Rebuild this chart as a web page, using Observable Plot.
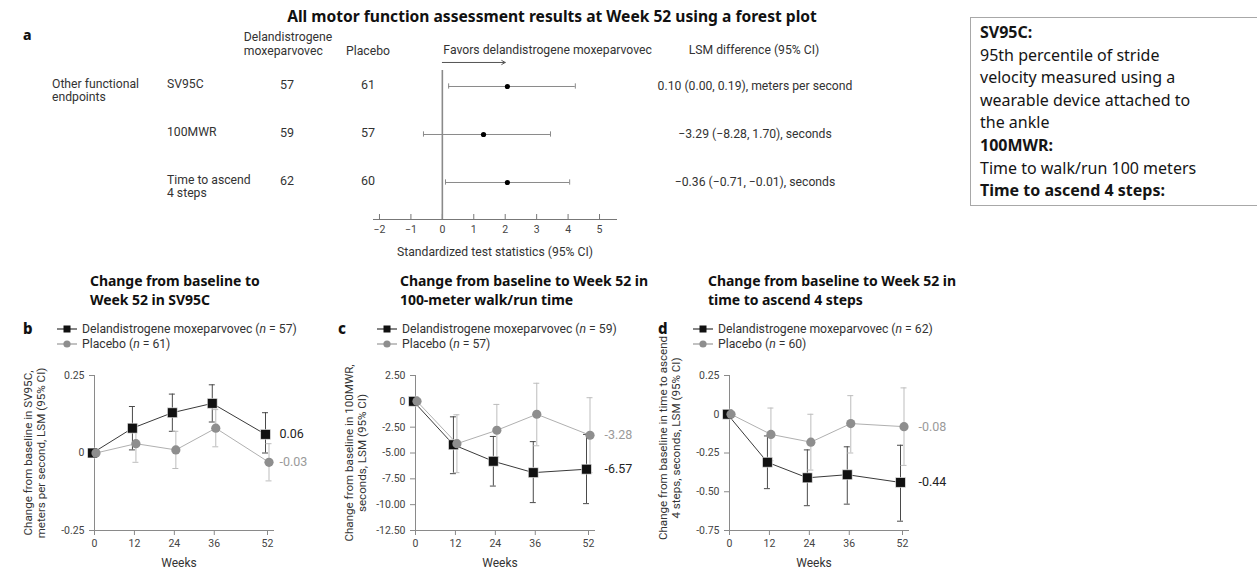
<!DOCTYPE html>
<html>
<head>
<meta charset="utf-8">
<script src="https://cdn.jsdelivr.net/npm/d3@7"></script>
<script src="https://cdn.jsdelivr.net/npm/@observablehq/plot@0.6"></script>
<style>
  html, body { margin: 0; padding: 0; background: #fff; }
  #root { position: relative; width: 1257px; height: 572px; overflow: hidden; background: #fff; }
  .t { position: absolute; white-space: nowrap; line-height: 1; }
  .abs { position: absolute; }
  .box { position: absolute; left: 970px; top: 17px; width: 300px; height: 189px; border: 1.5px solid #a8a8a8;
         box-sizing: border-box; padding: 3px 0 0 9px; font-family: 'Noto Sans', sans-serif; font-size: 16px;
         line-height: 22.6px; color: #151515; }
  .box b { font-weight: 700; }
</style>
</head>
<body>
<div id="root"></div>
<script>
// ---------------- DATA ----------------
// Forest plot (panel a)
const forestRows = ["SV95C", "100MWR", "Time to ascend\n4 steps"];
const forestDrugN = [57, 59, 62];
const forestPlaceboN = [61, 57, 60];
const forestEst = [2.07, 1.31, 2.07];
const forestLow = [0.2, -0.6, 0.1];
const forestHigh = [4.23, 3.44, 4.05];
const forestLSM = ["0.10 (0.00, 0.19), meters per second", "\u22123.29 (\u22128.28, 1.70), seconds", "\u22120.36 (\u22120.71, \u22120.01), seconds"];
const forestTicks = [-2, -1, 0, 1, 2, 3, 4, 5];

// Longitudinal panels
const weeks = [0, 12, 24, 36, 52];
const weekTicks = [0, 12, 24, 36, 52];

// b: SV95C
const svDrug = [0, 0.08, 0.13, 0.16, 0.06];
const svDrugLow = [0, 0.01, 0.07, 0.10, 0.00];
const svDrugHigh = [0, 0.15, 0.19, 0.22, 0.13];
const svPbo = [0, 0.03, 0.01, 0.08, -0.03];
const svPboLow = [0, -0.03, -0.05, 0.02, -0.09];
const svPboHigh = [0, 0.09, 0.07, 0.14, 0.03];
const svTicks = [-0.25, 0, 0.25];

// c: 100MWR
const mwrDrug = [0, -4.2, -5.8, -6.9, -6.57];
const mwrDrugLow = [0, -7.0, -8.2, -9.8, -9.9];
const mwrDrugHigh = [0, -1.5, -3.4, -3.9, -3.2];
const mwrPbo = [0, -4.1, -2.8, -1.25, -3.28];
const mwrPboLow = [0, -6.9, -5.4, -4.3, -6.9];
const mwrPboHigh = [0, -1.3, -0.3, 1.75, 0.35];
const mwrTicks = [2.5, 0, -2.5, -5, -7.5, -10, -12.5];

// d: time to ascend 4 steps
const ascDrug = [0, -0.31, -0.41, -0.39, -0.44];
const ascDrugLow = [0, -0.48, -0.59, -0.58, -0.69];
const ascDrugHigh = [0, -0.14, -0.23, -0.21, -0.20];
const ascPbo = [0, -0.13, -0.18, -0.06, -0.08];
const ascPboLow = [0, -0.30, -0.36, -0.25, -0.33];
const ascPboHigh = [0, 0.04, 0.00, 0.12, 0.17];
const ascTicks = [0.25, 0, -0.25, -0.5, -0.75];

// ---------------- HELPERS ----------------
const BODY = "Roboto, 'Noto Sans', sans-serif";
const HEAD = "'Noto Sans', sans-serif";
const root = document.getElementById("root");

function T(text, x, y, o = {}) {
  const d = document.createElement("div");
  d.className = "t";
  d.innerHTML = text;
  const a = o.anchor || "start";
  const tx = a === "start" ? "0" : a === "middle" ? "-50%" : "-100%";
  d.style.left = x + "px";
  d.style.top = y + "px";
  d.style.transform = `translate(${tx}, -50%)`;
  d.style.fontFamily = o.family || BODY;
  d.style.fontSize = (o.size || 12.2) + "px";
  d.style.fontWeight = o.weight || 400;
  d.style.color = o.color || "#333";
  if (o.ls) d.style.letterSpacing = o.ls + "px";
  if (o.lh) d.style.lineHeight = o.lh + "px";
  root.appendChild(d);
  return d;
}
function place(node, left, top) {
  const w = document.createElement("div");
  w.className = "abs";
  w.style.left = left + "px";
  w.style.top = top + "px";
  w.appendChild(node);
  root.appendChild(w);
}
const minus = s => s.replace("-", "\u2212");

// ---------------- PANEL a: titles and table ----------------
T("All motor function assessment results at Week 52 using a forest plot", 552, 17, {anchor: "middle", family: HEAD, size: 15.6, weight: 700, color: "#111"});
T("a", 23, 35, {family: HEAD, size: 14, weight: 800, color: "#111"});
T("Delandistrogene<br>moxeparvovec", 288, 44, {anchor: "middle", lh: 14});
T("Placebo", 368, 51, {anchor: "middle"});
T("LSM difference (95% CI)", 754, 50, {anchor: "middle"});
T("Other functional<br>endpoints", 52, 90.5, {lh: 13});
const rowY = [85, 133, 181];
forestRows.forEach((r, i) => {
  const lines = r.split("\n");
  T(lines.join("<br>"), 167, rowY[i] - 1 + (lines.length - 1) * 6.5, {lh: 13});
  T(String(forestDrugN[i]), 287, rowY[i], {anchor: "middle", size: 12.5});
  T(String(forestPlaceboN[i]), 368, rowY[i], {anchor: "middle", size: 12.5});
  T(forestLSM[i], 755, rowY[i] + 1, {anchor: "middle"});
});

// Forest plot
const forestData = forestRows.map((r, i) => ({row: i, est: forestEst[i], low: forestLow[i], high: forestHigh[i]}));
const capData = forestData.flatMap(d => [{row: d.row, x: d.low}, {row: d.row, x: d.high}]);
const forest = Plot.plot({
  width: 276, height: 224, marginLeft: 13, marginRight: 20, marginTop: 30, marginBottom: 45,
  x: {domain: [-2.19, 5.54]},
  y: {domain: [2.771, -0.333], axis: null},
  style: {fontFamily: BODY, fontSize: "10.5px", color: "#444", background: "none", overflow: "visible"},
  marks: [
    Plot.frame({anchor: "bottom", stroke: "#777"}),
    Plot.ruleX(forestTicks, {insetTop: 144, stroke: "#777"}),
    Plot.axisX({ticks: forestTicks, tickSize: 0, tickPadding: 6, tickFormat: d => minus(String(d)), label: null}),
    Plot.ruleX([0], {stroke: "#8a8a8a", strokeWidth: 1.6}),
    Plot.ruleY(forestData, {y: "row", x1: "low", x2: "high", stroke: "#8a8a8a", strokeWidth: 1}),
    Plot.ruleX(capData, {x: "x", y1: d => d.row - 0.055, y2: d => d.row + 0.055, stroke: "#8a8a8a"}),
    Plot.dot(forestData, {x: "est", y: "row", r: 2.6, fill: "#000"}),
    Plot.arrow([{x1: 0, x2: 2}], {x1: "x1", x2: "x2", y1: () => -0.5, y2: () => -0.5, stroke: "#555", headLength: 6, strokeWidth: 1}),
    Plot.text(["Favors delandistrogene moxeparvovec"], {text: d => d, x: () => 0, frameAnchor: "top", lineAnchor: "middle", dy: -20, dx: 1, textAnchor: "start", fontSize: 12.2, fill: "#333"}),
    Plot.text(["Standardized test statistics (95% CI)"], {text: d => d, frameAnchor: "bottom", lineAnchor: "middle", dy: 33, fontSize: 12.2, fill: "#333"})
  ]
});
place(forest, 360, 40);

// ---------------- Right box ----------------
const box = document.createElement("div");
box.className = "box";
box.innerHTML = "<b>SV95C:</b><br>95th percentile of stride<br>velocity measured using a<br>wearable device attached to<br>the ankle<br><b>100MWR:</b><br>Time to walk/run 100 meters<br><b>Time to ascend 4 steps:</b>";
root.appendChild(box);

// ---------------- Longitudinal panels ----------------
function series(mean, low, high) {
  return weeks.map((w, i) => ({week: w, mean: mean[i], low: low[i], high: high[i]}));
}
const panels = [
  {letter: "b", axis: 94, letterX: 23, legendX: 57, titleX: 90,
   title: ["Change from baseline to", "Week 52 in SV95C"],
   ylabel: "Change from baseline in SV95C,\nmeters per second, LSM (95% CI)", ylDy: 0,
   domain: [-0.25, 0.25], ticks: svTicks, nDrug: 57, nPbo: 61, endDx: 12,
   drug: series(svDrug, svDrugLow, svDrugHigh), pbo: series(svPbo, svPboLow, svPboHigh)},
  {letter: "c", axis: 415, letterX: 338, legendX: 377, titleX: 400,
   title: ["Change from baseline to Week 52 in", "100-meter walk/run time"],
   ylabel: "Change from baseline in 100MWR,\nseconds, LSM (95% CI)", ylDy: 0,
   domain: [-12.5, 2.5], ticks: mwrTicks, nDrug: 59, nPbo: 57, endDx: 16,
   drug: series(mwrDrug, mwrDrugLow, mwrDrugHigh), pbo: series(mwrPbo, mwrPboLow, mwrPboHigh)},
  {letter: "d", axis: 729, letterX: 658, legendX: 693, titleX: 708,
   title: ["Change from baseline to Week 52 in", "time to ascend 4 steps"],
   ylabel: "Change from baseline in time to ascend\n4 steps, seconds, LSM (95% CI)", ylDy: -15,
   domain: [-0.75, 0.25], ticks: ascTicks, nDrug: 62, nPbo: 60, endDx: 16,
   drug: series(ascDrug, ascDrugLow, ascDrugHigh), pbo: series(ascPbo, ascPboLow, ascPboHigh)}
];

const DRUG = "#111", DRUG_LINE = "#3a3a3a", DRUG_CI = "#4a4a4a";
const PBO = "#8e8e8e", PBO_LINE = "#b0b0b0", PBO_CI = "#bdbdbd";

function legendMarker(kind) {
  const c = kind === "drug" ? DRUG : PBO;
  const lc = kind === "drug" ? "#333" : "#999";
  const shape = kind === "drug"
    ? `<rect x="6.5" y="2.5" width="7" height="7" fill="${c}"/>`
    : `<circle cx="10" cy="6" r="3.6" fill="${c}"/>`;
  return `<svg width="20" height="12" style="vertical-align:middle;margin-right:5px"><line x1="0" x2="20" y1="6" y2="6" stroke="${lc}" stroke-width="1.2"/>${shape}</svg>`;
}

panels.forEach(p => {
  // titles, letter, legend
  T(p.title.join("<br>"), p.titleX, 289.5, {family: HEAD, size: 14, weight: 700, color: "#111", ls: -0.05, lh: 19.5});
  T(p.letter, p.letterX, 328, {family: HEAD, size: 15, weight: 800, color: "#111"});
  T(legendMarker("drug") + `Delandistrogene moxeparvovec (<i>n</i> = ${p.nDrug})<br>` +
    legendMarker("pbo") + `Placebo (<i>n</i> = ${p.nPbo})`, p.legendX, 336.5, {lh: 15});

  const ML = 80, MT = 15, MB = 42, MR = 48, inner = 179;
  const dDx = -2, pDx = 1.5;
  const drugCI = p.drug.filter(d => d.week > 0);
  const pboCI = p.pbo.filter(d => d.week > 0);
  const lastD = p.drug[p.drug.length - 1], lastP = p.pbo[p.pbo.length - 1];
  const chart = Plot.plot({
    width: ML + inner + MR, height: MT + 155 + MB,
    marginLeft: ML, marginRight: MR, marginTop: MT, marginBottom: MB,
    x: {domain: [0, 53.8]},
    y: {domain: p.domain},
    style: {fontFamily: BODY, fontSize: "10.5px", color: "#444", background: "none", overflow: "visible"},
    marks: [
      Plot.frame({anchor: "left", stroke: "#8a8a8a"}),
      Plot.frame({anchor: "bottom", stroke: "#8a8a8a"}),
      Plot.axisY({ticks: p.ticks, tickSize: 5, tickPadding: 5, stroke: "#8a8a8a", fill: "#444",
                  tickFormat: d => d === 0 ? "0" : d.toFixed(2), label: null}),
      Plot.axisX({ticks: weekTicks, tickSize: 5, tickPadding: 4, stroke: "#8a8a8a", fill: "#444", label: null}),
      Plot.text([p.ylabel], {text: d => d, frameAnchor: "left", rotate: -90, dx: -60, dy: p.ylDy,
                             lineHeight: 1.05, fontSize: 11.6, fill: "#333", textAnchor: "middle"}),
      Plot.text(["Weeks"], {text: d => d, frameAnchor: "bottom", lineAnchor: "middle", dy: 33, dx: -5, fontSize: 12, fill: "#333"}),
      // drug CI
      Plot.ruleX(drugCI, {x: "week", y1: "low", y2: "high", stroke: DRUG_CI, strokeWidth: 1, dx: dDx}),
      Plot.ruleY(drugCI.flatMap(d => [d.low, d.high].map(v => ({week: d.week, v}))),
                 {y: "v", x1: d => d.week - 0.9, x2: d => d.week + 0.9, stroke: DRUG_CI, dx: dDx}),
      // placebo CI
      Plot.ruleX(pboCI, {x: "week", y1: "low", y2: "high", stroke: PBO_CI, strokeWidth: 1, dx: pDx}),
      Plot.ruleY(pboCI.flatMap(d => [d.low, d.high].map(v => ({week: d.week, v}))),
                 {y: "v", x1: d => d.week - 0.9, x2: d => d.week + 0.9, stroke: PBO_CI, dx: pDx}),
      Plot.line(p.drug, {x: "week", y: "mean", stroke: DRUG_LINE, strokeWidth: 1, dx: dDx}),
      Plot.line(p.pbo, {x: "week", y: "mean", stroke: PBO_LINE, strokeWidth: 1, dx: pDx}),
      Plot.dot(p.drug, {x: "week", y: "mean", symbol: "square", r: 5.6, fill: DRUG, stroke: "#fff", strokeWidth: 0.6, dx: dDx}),
      Plot.dot(p.pbo, {x: "week", y: "mean", r: 4.6, fill: PBO, dx: pDx}),
      Plot.text([lastD], {x: "week", y: "mean", text: d => d.mean.toFixed(2), dx: p.endDx, textAnchor: "start", fontSize: 12.5, fill: "#222"}),
      Plot.text([lastP], {x: "week", y: "mean", text: d => d.mean.toFixed(2), dx: p.endDx, textAnchor: "start", fontSize: 12.5, fill: "#9a9a9a"})
    ]
  });
  place(chart, p.axis - ML, 360);
});
</script>
</body>
</html>
